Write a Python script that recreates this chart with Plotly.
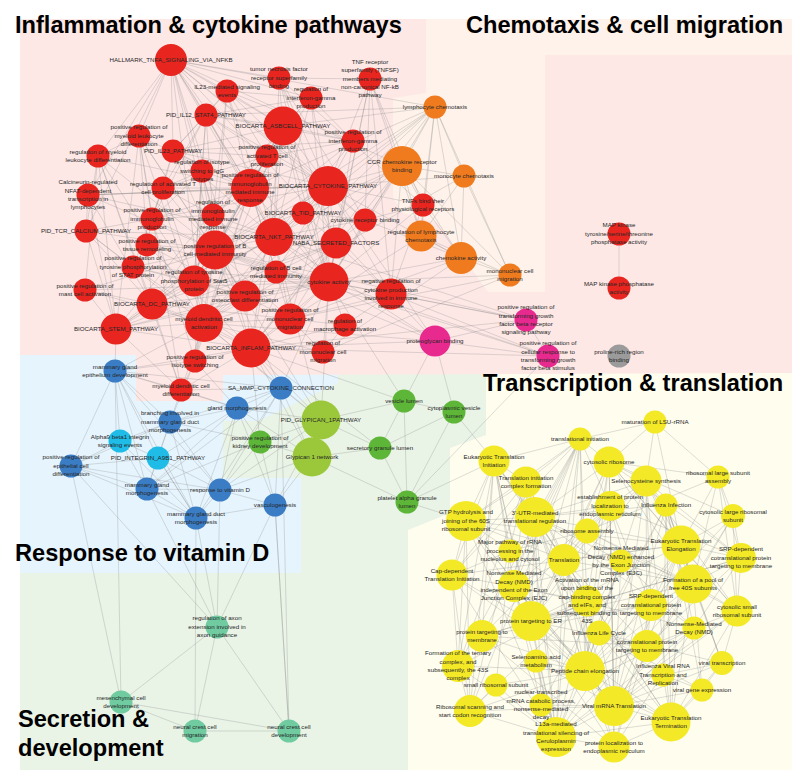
import plotly.graph_objects as go

# ---------------- nodes: (key, label, layout_x, layout_y, node_size) ----------------
red_nodes = [
    ("R1", "HALLMARK_TNFA_SIGNALING_VIA_NFKB", 163, 52, 32),
    ("R2", "IL23-mediated signaling\nevents", 219, 83, 23),
    ("R3", "PID_IL12_STAT4_PATHWAY", 198, 107, 23),
    ("R4", "positive regulation of\nmyeloid leukocyte\ndifferentiation", 131, 128, 23),
    ("R5", "PID_IL23_PATHWAY", 165, 143, 23),
    ("R6", "regulation of myeloid\nleukocyte differentiation", 90, 148, 23),
    ("R7", "regulation of isotype\nswitching to IgG\nisotypes", 194, 163, 23),
    ("R8", "regulation of activated T\ncell proliferation", 155, 180, 23),
    ("R9", "Calcineurin-regulated\nNFAT-dependent\ntranscription in\nlymphocytes", 80, 187, 23),
    ("R10", "positive regulation of\nimmunoglobulin\nmediated immune\nresponse", 242, 180, 38),
    ("R11", "positive regulation of\nactivated T cell\nproliferation", 259, 148, 23),
    ("R12", "BIOCARTA_ASBCELL_PATHWAY", 275, 118, 39),
    ("R13", "tumor necrosis factor\nreceptor superfamily\nbinding", 271, 70, 23),
    ("R14", "regulation of\ninterferon-gamma\nproduction", 303, 90, 23),
    ("R15", "TNF receptor\nsuperfamily (TNFSF)\nmembers mediating\nnon-canonical NF-kB\npathway", 362, 71, 23),
    ("R16", "positive regulation of\ninterferon-gamma\nproduction", 345, 133, 23),
    ("R17", "BIOCARTA_CYTOKINE_PATHWAY", 320, 178, 40),
    ("R18", "PID_TCR_CALCIUM_PATHWAY", 78, 223, 23),
    ("R19", "positive regulation of\nimmunoglobulin\nproduction", 144, 211, 23),
    ("R20", "regulation of\nimmunoglobulin\nmediated immune\nresponse", 205, 207, 23),
    ("R21", "positive regulation of\ntissue remodeling", 139, 237, 23),
    ("R22", "positive regulation of B\ncell mediated immunity", 207, 242, 39),
    ("R23", "BIOCARTA_NKT_PATHWAY", 266, 229, 38),
    ("R24", "positive regulation of\ntyrosine phosphorylation\nof STAT protein", 125, 259, 23),
    ("R25", "regulation of tyrosine\nphosphorylation of Stat5\nprotein", 186, 273, 31),
    ("R26", "positive regulation of\nmast cell activation", 77, 282, 23),
    ("R27", "BIOCARTA_DC_PATHWAY", 144, 296, 31),
    ("R28", "positive regulation of\nosteoclast differentiation", 237, 288, 31),
    ("R29", "BIOCARTA_STEM_PATHWAY", 108, 321, 31),
    ("R30", "myeloid dendritic cell\nactivation", 196, 315, 38),
    ("R31", "BIOCARTA_INFLAM_PATHWAY", 243, 340, 39),
    ("R32", "positive regulation of\nisotype switching", 187, 353, 23),
    ("R33", "regulation of B cell\nmediated immunity", 268, 264, 23),
    ("R34", "BIOCARTA_TID_PATHWAY", 295, 205, 23),
    ("R35", "NABA_SECRETED_FACTORS", 328, 235, 31),
    ("R36", "cytokine receptor binding", 357, 212, 23),
    ("R37", "cytokine activity", 321, 274, 39),
    ("R38", "positive regulation of\nmononuclear cell\nmigration", 282, 311, 31),
    ("R39", "regulation of\nmacrophage activation", 337, 317, 23),
    ("R40", "regulation of\nmononuclear cell\nmigration", 315, 344, 23),
    ("R41", "negative regulation of\ncytokine production\ninvolved in immune\nresponse", 383, 286, 31),
    ("R42", "TNFs bind their\nphysiological receptors", 415, 197, 23),
    ("R43", "myeloid dendritic cell\ndifferentiation", 173, 382, 23),
    ("R44", "MAP kinase\ntyrosine/serine/threonine\nphosphatase activity", 611, 226, 23),
    ("R45", "MAP kinase phosphatase\nactivity", 611, 280, 23),
]
orange_nodes = [
    ("O1", "lymphocyte chemotaxis", 427, 99, 23),
    ("O2", "CCR chemokine receptor\nbinding", 394, 158, 40),
    ("O3", "monocyte chemotaxis", 456, 168, 23),
    ("O4", "regulation of lymphocyte\nchemotaxis", 413, 228, 31),
    ("O5", "chemokine activity", 453, 250, 32),
    ("O6", "mononuclear cell\nmigration", 502, 267, 23),
]
magenta_nodes = [
    ("M1", "proteoglycan binding", 427, 333, 31),
    ("M2", "positive regulation of\ntransforming growth\nfactor beta receptor\nsignaling pathway", 518, 312, 23),
    ("M3", "positive regulation of\ncellular response to\ntransforming growth\nfactor beta stimulus", 540, 348, 23),
]
grey_nodes = [
    ("X1", "proline-rich region\nbinding", 611, 348, 23),
]
blue_nodes = [
    ("B1", "mammary gland\nepithelium development", 107, 363, 23),
    ("B2", "SA_MMP_CYTOKINE_CONNECTION", 273, 380, 23),
    ("B3", "gland morphogenesis", 229, 400, 23),
    ("B4", "branching involved in\nmammary gland duct\nmorphogenesis", 162, 414, 23),
    ("B5", "positive regulation of\nepithelial cell\ndifferentiation", 63, 458, 23),
    ("B6", "mammary gland\nmorphogenesis", 139, 481, 23),
    ("B7", "response to vitamin D", 212, 482, 23),
    ("B8", "mammary gland duct\nmorphogenesis", 188, 510, 23),
    ("B9", "vasculogenesis", 267, 497, 23),
]
cyan_nodes = [
    ("C1", "Alpha9 beta1 integrin\nsignaling events", 112, 433, 23),
    ("C2", "PID_INTEGRIN_A9B1_PATHWAY", 150, 450, 23),
]
green_nodes = [
    ("G1", "positive regulation of\nkidney development", 252, 434, 23),
    ("G2", "vesicle lumen", 396, 393, 23),
    ("G3", "cytoplasmic vesicle\nlumen", 446, 404, 23),
    ("G4", "secretory granule lumen", 372, 440, 23),
    ("G5", "platelet alpha granule\nlumen", 399, 494, 23),
]
lightgreen_nodes = [
    ("L1", "PID_GLYPICAN_1PATHWAY", 313, 412, 39),
    ("L2", "Glypican 1 network", 304, 449, 39),
]
teal_nodes = [
    ("T1", "regulation of axon\nextension involved in\naxon guidance", 209, 619, 23),
    ("T2", "mesenchymal cell\ndevelopment", 113, 694, 23),
    ("T3", "neural crest cell\nmigration", 187, 723, 23),
    ("T4", "neural crest cell\ndevelopment", 281, 723, 23),
]
yellow_nodes = [
    ("Y1", "maturation of LSU-rRNA", 647, 414, 23),
    ("Y2", "translational initiation", 572, 431, 23),
    ("Y3", "Eukaryotic Translation\nInitiation", 486, 453, 31),
    ("Y4", "cytosolic ribosome", 601, 454, 31),
    ("Y5", "Translation initiation\ncomplex formation", 518, 474, 31),
    ("Y6", "Selenocysteine synthesis", 638, 473, 31),
    ("Y7", "ribosomal large subunit\nassembly", 710, 469, 23),
    ("Y8", "establishment of protein\nlocalization to\nendoplasmic reticulum", 602, 498, 30),
    ("Y9", "Influenza Infection", 658, 497, 23),
    ("Y10", "cytosolic large ribosomal\nsubunit", 725, 508, 24),
    ("Y11", "GTP hydrolysis and\njoining of the 60S\nribosomal subunit", 458, 513, 40),
    ("Y12", "3′-UTR-mediated\ntranslational regulation", 527, 509, 40),
    ("Y13", "ribosome assembly", 579, 523, 25),
    ("Y14", "Eukaryotic Translation\nElongation", 673, 537, 39),
    ("Y15", "Major pathway of rRNA\nprocessing in the\nnucleolus and cytosol", 502, 543, 23),
    ("Y16", "Translation", 556, 552, 32),
    ("Y17", "Nonsense Mediated\nDecay (NMD) enhanced\nby the Exon Junction\nComplex (EJC)", 613, 553, 23),
    ("Y18", "SRP-dependent\ncotranslational protein\ntargeting to membrane", 733, 550, 30),
    ("Y19", "Cap-dependent\nTranslation Initiation", 444, 567, 31),
    ("Y20", "Nonsense Mediated\nDecay (NMD)\nindependent of the Exon\nJunction Complex (EJC)", 506, 578, 32),
    ("Y21", "Formation of a pool of\nfree 40S subunits", 685, 576, 39),
    ("Y22", "Activation of the mRNA\nupon binding of the\ncap-binding complex\nand eIFs, and\nsubsequent binding to\n43S", 579, 593, 31),
    ("Y23", "SRP-dependent\ncotranslational protein\ntargeting to membrane", 643, 597, 32),
    ("Y24", "cytosolic small\nribosomal subunit", 729, 603, 31),
    ("Y25", "protein targeting to ER", 523, 613, 40),
    ("Y26", "Nonsense-Mediated\nDecay (NMD)", 686, 620, 23),
    ("Y27", "Influenza Life Cycle", 591, 625, 25),
    ("Y28", "protein targeting to\nmembrane", 474, 628, 32),
    ("Y29", "cotranslational protein\ntargeting to membrane", 639, 638, 32),
    ("Y30", "Formation of the ternary\ncomplex, and\nsubsequently, the 43S\ncomplex", 450, 658, 32),
    ("Y31", "Selenoamino acid\nmetabolism", 528, 653, 23),
    ("Y32", "Peptide chain elongation", 577, 663, 40),
    ("Y33", "Influenza Viral RNA\nTranscription and\nReplication", 655, 667, 23),
    ("Y34", "viral transcription", 714, 655, 24),
    ("Y35", "small ribosomal subunit", 488, 677, 23),
    ("Y36", "viral gene expression", 694, 682, 23),
    ("Y37", "nuclear-transcribed\nmRNA catabolic process,\nnonsense-mediated\ndecay", 533, 697, 23),
    ("Y38", "Ribosomal scanning and\nstart codon recognition", 462, 703, 32),
    ("Y39", "Viral mRNA Translation", 606, 698, 40),
    ("Y40", "Eukaryotic Translation\nTermination", 663, 714, 39),
    ("Y41", "L13a-mediated\ntranslational silencing of\nCeruloplasmin\nexpression", 548, 729, 40),
    ("Y42", "protein localization to\nendoplasmic reticulum", 606, 739, 31),
]

# ---------------- edges (adjacency lists) ----------------
edge_lists = """
R1: R2 R3 R4 R5 R6 R9 R10 R12 R13 R14 R17 R22 R23 R37 R41 R30 R31 R36 O2 R18 R28 O1
R2: R3 R5 R10 R12 R14 R16 R17 R22 R23 R11 R20
R3: R5 R7 R8 R10 R12 R14 R16 R17 R22 R23 R19 R25 R11
R4: R6 R10 R22 R30 R29 R27 R28 R43 R19
R5: R7 R8 R10 R12 R17 R22 R23 R11 R16 R19
R6: R10 R22 R30 R27 R29 R43 R18 R26
R7: R8 R10 R19 R20 R22 R32 R25
R8: R10 R11 R19 R20 R22 R25 R24
R9: R18 R22 R27 R23 R29 R17 R10
R10: R11 R12 R17 R19 R20 R22 R23 R25 R30 R33 R32 R37 R38
R11: R12 R17 R22 R23 R16 R25 R20
R12: R13 R14 R16 R17 R22 R23 R27 R29 R30 R31 R37 R35 R34
R13: R15 R17 R23 R37 R36 R42 R35
R14: R16 R17 R23 R22 R37
R15: R36 R42 R37 O2 O4 R35 R41 R17
R16: R17 R23 R22 R37
R17: R22 R23 R27 R29 R30 R31 R34 R35 R36 R37 R38 R41 R42 O1 O2 O3 O5 R33 R18 R9
R18: R22 R23 R27 R29 R30 R24
R19: R20 R22 R25 R21 R32
R20: R22 R25 R32 R33 R23
R21: R22 R24 R28 R37 R31
R22: R23 R25 R27 R28 R29 R30 R31 R32 R33 R35 R37 R38
R23: R27 R29 R30 R31 R35 R37 R38 R34 R36 R28
R24: R25 R22 R28 R37 R31
R25: R28 R30 R37 R23
R26: R30 R22 R27 R29 R37
R27: R29 R30 R31 R37 R35 R38 R43
R28: R30 R31 R37 R38 R29
R29: R30 R31 R37 R35 R43
R30: R31 R37 R38 R43 R32 R40
R31: R37 R38 R39 R40 R35 R43 R32
R32: R43
R33: R37 R35
R34: R35 R37 R36
R35: R37 R36 R41 R38
R36: R37 R42 O2 O5
R37: R38 R39 R40 R41 R42 O1 O2 O5 O6 M1
R38: R40 R39 R41 O5 O6 O4
R39: R41 R40
R40: O6 O5
R41: R42 O2 M1 M2 M3
R42: O1 O2 O4 O5
R43: B1 B3 B4 B2
R32: B1 B4 B3
R44: R45
O1: O2 O3 O5 O6 O4 R12 R10 R22 R23 R3 R31 R30
O2: O3 O4 O5 O6 R23 R22 R30 R31
O3: O5 O6 O4 R30
O4: O5 O6
O5: O6
M1: M2 M3 G2 G3 R31 R22 R30 R23 R17
M2: M3 R37 R31 R23 R22
M3: R31 R37 R22 G5
L1: L2 G1 B2 B3 B7 B9 R31 R30 R22 R23 R37 G2 G4
L2: G1 B7 B9 G4 G5 B3 B2 R31
G1: B3 B7 B9 B4 B6 R31
G2: G3 G4 G5 R37 R31
G3: G4 G5 Y3
G4: G5 R31
G5: Y11 Y3
B1: B4 B5 B6 B3 B2 R31 R30 R29 B8 B7 C1 C2
B2: B3 B7 B9 B4 R31 R30 R22 R37 B6 B8
B3: B4 B6 B7 B8 B9 C2
B4: B6 B7 B8 C1 C2 B5
B5: B6 B8 C1 C2 T1 B7
B6: B7 B8 C1 C2 T1
B7: B8 B9 C2 T1
B8: B9 C2 T1 T3
B9: T1 T4
C1: C2 B8
C2: B8
T1: T2 T3 T4
T2: T3 T4 B1 B5
T3: T4
T4: B9 B2
Y1: Y2 Y4 Y6 Y7 Y14
Y2: Y3 Y4 Y5 Y8 Y11 Y12 Y16 Y19 Y20 Y22 Y25 Y28 Y30 Y32 Y38 Y41
Y3: Y5 Y11 Y12 Y15 Y16 Y19 Y22 Y25 Y28 Y30 Y38 Y41 Y20
Y4: Y6 Y7 Y8 Y12 Y13 Y14 Y16 Y21 Y22 Y25 Y32 Y39 Y24 Y10 Y18
Y5: Y11 Y12 Y16 Y19 Y22 Y25 Y30 Y38 Y41 Y20 Y32
Y6: Y8 Y9 Y12 Y14 Y16 Y21 Y23 Y25 Y29 Y32 Y39 Y40 Y24 Y18
Y7: Y10 Y14 Y21 Y24 Y18 Y13
Y8: Y12 Y16 Y18 Y23 Y25 Y28 Y29 Y32 Y39 Y42 Y20
Y9: Y14 Y21 Y26 Y33 Y34 Y36 Y39 Y40 Y27 Y32 Y12
Y10: Y14 Y21 Y24 Y18 Y32 Y39
Y11: Y12 Y16 Y19 Y22 Y25 Y30 Y38 Y41 Y14 Y21 Y32 Y39
Y12: Y14 Y16 Y20 Y21 Y25 Y32 Y39 Y40 Y41 Y17 Y26 Y37
Y13: Y21 Y24 Y16 Y15
Y14: Y16 Y21 Y24 Y25 Y32 Y39 Y40 Y18 Y29 Y23 Y41 Y34
Y15: Y35 Y19
Y16: Y21 Y25 Y32 Y39 Y40 Y41 Y20 Y29 Y42
Y17: Y20 Y26 Y37 Y39 Y32 Y41
Y18: Y23 Y25 Y28 Y29 Y42 Y24
Y19: Y22 Y25 Y30 Y38 Y41 Y32 Y14
Y20: Y26 Y37 Y39 Y41 Y32
Y21: Y24 Y25 Y32 Y39 Y40 Y41 Y34 Y36
Y22: Y25 Y30 Y38 Y41 Y32
Y23: Y25 Y28 Y29 Y42
Y24: Y32 Y39 Y40 Y41 Y34
Y25: Y28 Y29 Y32 Y39 Y40 Y41 Y42
Y26: Y37 Y39 Y41
Y27: Y33 Y34 Y36 Y39 Y40
Y28: Y29 Y42 Y32
Y29: Y42 Y32
Y30: Y38 Y41 Y32
Y31: Y32 Y39 Y40 Y41
Y32: Y39 Y40 Y41 Y42 Y38 Y35
Y33: Y34 Y36 Y39 Y40
Y34: Y36 Y39 Y40
Y35: Y38 Y41
Y36: Y39 Y40
Y37: Y39 Y41
Y38: Y41 Y39
Y39: Y40 Y41 Y42
Y40: Y41 Y42
Y41: Y42
"""

# ---------------- region titles ----------------
region_titles = ["Inflammation & cytokine pathways", "Chemotaxis & cell migration",
                 "Transcription & translation", "Response to vitamin D",
                 "Secretion &", "development"]
title_pos = [(5, 17), (456, 17), (473, 375), (5, 545), (8, 711), (8, 740)]

groups = [
    (red_nodes, "#e8251f"), (orange_nodes, "#f07b1f"), (magenta_nodes, "#e82a8e"),
    (grey_nodes, "#9b9b9b"), (blue_nodes, "#3b7dc4"), (cyan_nodes, "#1fbce8"),
    (green_nodes, "#5db638"), (lightgreen_nodes, "#9bc83b"), (teal_nodes, "#70cba1"),
    (yellow_nodes, "#f4e926"),
]

pos = {}
for nodes, _ in groups:
    for k, lab, x, y, d in nodes:
        pos[k] = (x, y)

ex, ey = [], []
for line in edge_lists.strip().splitlines():
    a, rest = line.split(":")
    a = a.strip()
    for b in rest.split():
        ex += [pos[a][0], pos[b][0], None]
        ey += [pos[a][1], pos[b][1], None]

fig = go.Figure()

# background regions
def poly(pts):
    return "M " + " L ".join(f"{x},{y}" for x, y in pts) + " Z"

regions = [
    ([(12, 347), (789, 347), (789, 762), (12, 762)], "#e9f3e6"),  # green base
    ([(12, 347), (330, 347), (330, 375), (250, 413), (215, 413), (215, 470), (293, 470),
      (293, 565), (12, 565)], "#e6f4fd"),  # blue
    ([(478, 365), (789, 365), (789, 762), (400, 762), (400, 522), (442, 505), (442, 440),
      (478, 427)], "#fefdee"),  # yellow
    ([(12, 11), (789, 11), (789, 365), (215, 367), (215, 393), (128, 393), (128, 347),
      (12, 347)], "#fde8e6"),  # pink
    ([(418, 11), (789, 11), (789, 47), (537, 47), (537, 284), (480, 284), (430, 215),
      (395, 205), (385, 190), (385, 90), (418, 85)], "#fef2ea"),  # peach
]
shapes = [dict(type="path", path=poly(p), fillcolor=c, line=dict(width=0), layer="below")
          for p, c in regions]

fig.add_trace(go.Scatter(x=ex, y=ey, mode="lines",
                         line=dict(color="rgba(130,130,130,0.38)", width=0.7),
                         hoverinfo="skip", showlegend=False))

for nodes, col in groups:
    fig.add_trace(go.Scatter(
        x=[n[2] for n in nodes], y=[n[3] for n in nodes], mode="markers",
        marker=dict(size=[n[4] for n in nodes], color=col, line=dict(width=0), opacity=1),
        hoverinfo="skip", showlegend=False))

all_nodes = [n for nodes, _ in groups for n in nodes]
fig.add_trace(go.Scatter(
    x=[n[2] for n in all_nodes], y=[n[3] for n in all_nodes], mode="text",
    text=[n[1].replace("\n", "<br>") for n in all_nodes],
    textposition="middle center",
    textfont=dict(family="Liberation Sans, Arial, sans-serif", size=6.2, color="#262626"),
    hoverinfo="skip", showlegend=False))

annotations = []
for t, (x, y) in zip(region_titles, title_pos):
    annotations.append(dict(x=x, y=y, xref="x", yref="y", text="<b>" + t + "</b>",
                            showarrow=False, xanchor="left", yanchor="middle",
                            font=dict(family="Liberation Sans, Arial, sans-serif",
                                      size=23.6, color="#000000")))

fig.update_layout(
    width=800, height=774, margin=dict(l=0, r=0, t=0, b=0),
    paper_bgcolor="white", plot_bgcolor="white",
    xaxis=dict(range=[0, 800], visible=False, fixedrange=True),
    yaxis=dict(range=[774, 0], visible=False, fixedrange=True),
    shapes=shapes, annotations=annotations, showlegend=False,
)

fig.write_html("out.html")
